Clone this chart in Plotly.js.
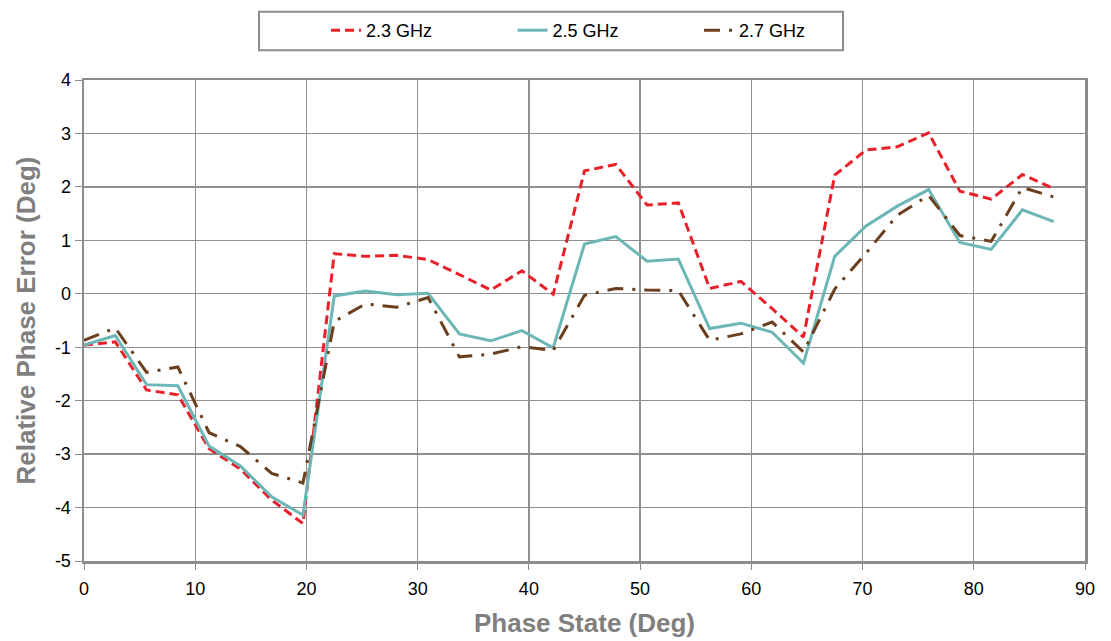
<!DOCTYPE html>
<html>
<head>
<meta charset="utf-8">
<script src="https://cdn.plot.ly/plotly-3.0.1.min.js"></script>
<style>html,body{margin:0;padding:0;background:#fff;}#chart{width:1111px;height:641px;}</style>
</head>
<body>
<div id="chart"></div>
<script>
const phaseState = [0, 2.8125, 5.625, 8.4375, 11.25, 14.0625, 16.875, 19.6875, 22.5, 25.3125, 28.125, 30.9375, 33.75, 36.5625, 39.375, 42.1875, 45, 47.8125, 50.625, 53.4375, 56.25, 59.0625, 61.875, 64.6875, 67.5, 70.3125, 73.125, 75.9375, 78.75, 81.5625, 84.375, 87.1875];
const err23 = [-0.96, -0.90, -1.80, -1.89, -2.90, -3.28, -3.86, -4.30, 0.75, 0.70, 0.72, 0.64, 0.36, 0.07, 0.43, -0.01, 2.30, 2.42, 1.66, 1.70, 0.10, 0.23, -0.28, -0.81, 2.22, 2.69, 2.75, 3.01, 1.92, 1.77, 2.23, 1.97];
const err25 = [-0.96, -0.78, -1.70, -1.72, -2.85, -3.22, -3.80, -4.14, -0.04, 0.05, -0.02, 0.01, -0.75, -0.88, -0.69, -1.01, 0.93, 1.07, 0.61, 0.65, -0.65, -0.55, -0.72, -1.30, 0.70, 1.27, 1.64, 1.95, 0.96, 0.83, 1.57, 1.35];
const err27 = [-0.87, -0.64, -1.47, -1.37, -2.60, -2.86, -3.36, -3.54, -0.52, -0.19, -0.25, -0.07, -1.18, -1.13, -0.99, -1.06, -0.03, 0.10, 0.07, 0.06, -0.87, -0.75, -0.53, -1.09, 0.09, 0.76, 1.47, 1.84, 1.09, 0.98, 1.99, 1.81];
const seriesNames = ["2.3 GHz", "2.5 GHz", "2.7 GHz"];
const xTickVals = [0, 10, 20, 30, 40, 50, 60, 70, 80, 90];
const xTickText = ["0", "10", "20", "30", "40", "50", "60", "70", "80", "90"];
const yTickVals = [-5, -4, -3, -2, -1, 0, 1, 2, 3, 4];
const yTickText = ["-5", "-4", "-3", "-2", "-1", "0", "1", "2", "3", "4"];

const traces = [
  {x: phaseState, y: err23, name: seriesNames[0], mode: "lines", type: "scatter",
   line: {color: "#e8202a", width: 3, dash: "9px,5px"}},
  {x: phaseState, y: err25, name: seriesNames[1], mode: "lines", type: "scatter",
   line: {color: "#6db6b6", width: 3}},
  {x: phaseState, y: err27, name: seriesNames[2], mode: "lines", type: "scatter",
   line: {color: "#6b3e1e", width: 3, dash: "16px,9px,3px,9px"}}
];

const gridCol = "#8f8f8f";
const fontFam = "Liberation Sans, Arial, sans-serif";
const layout = {
  width: 1111, height: 641,
  margin: {l: 84, r: 26, t: 75, b: 80},
  paper_bgcolor: "#ffffff", plot_bgcolor: "#ffffff",
  font: {family: fontFam, size: 18, color: "#000"},
  showlegend: true,
  legend: {
    orientation: "h", x: 0.2418, xanchor: "left", y: 1.1029, yanchor: "middle",
    borderwidth: 0, bgcolor: "rgba(0,0,0,0)",
    font: {size: 18, color: "#000"},
    entrywidth: 141.5, entrywidthmode: "pixels", tracegroupgap: 0
  },
  shapes: [{
    type: "rect", xref: "paper", yref: "paper",
    x0: (259 - 84) / 1001, x1: (843 - 84) / 1001,
    y0: 1 + (75 - 45) / 486, y1: 1 + (75 - 6) / 486,
    line: {color: "#8c8c8c", width: 2}, fillcolor: "rgba(0,0,0,0)", layer: "below"
  }],
  xaxis: {
    range: [0, 90], tickvals: xTickVals, ticktext: xTickText,
    showgrid: true, gridcolor: gridCol, gridwidth: 1.3,
    zeroline: false, showline: true, mirror: true, linecolor: "#8c8c8c", linewidth: 2.5,
    ticks: "outside", ticklen: 6, tickcolor: "#8c8c8c", ticklabelstandoff: 4,
    tickfont: {size: 18, color: "#000"},
    title: {text: "Phase State (Deg)", font: {size: 26, color: "#7f7f7f", family: fontFam, weight: "bold"}, standoff: 16}
  },
  yaxis: {
    range: [-5, 4], tickvals: yTickVals, ticktext: yTickText,
    showgrid: true, gridcolor: gridCol, gridwidth: 1.3,
    zeroline: false, showline: true, mirror: true, linecolor: "#8c8c8c", linewidth: 2.5,
    ticks: "outside", ticklen: 7, tickcolor: "#8c8c8c",
    tickfont: {size: 18, color: "#000"},
    title: {text: "Relative Phase Error (Deg)", font: {size: 26, color: "#7f7f7f", family: fontFam, weight: "bold"}, standoff: 12}
  }
};

Plotly.newPlot("chart", traces, layout, {displayModeBar: false, staticPlot: true});
</script>
</body>
</html>
